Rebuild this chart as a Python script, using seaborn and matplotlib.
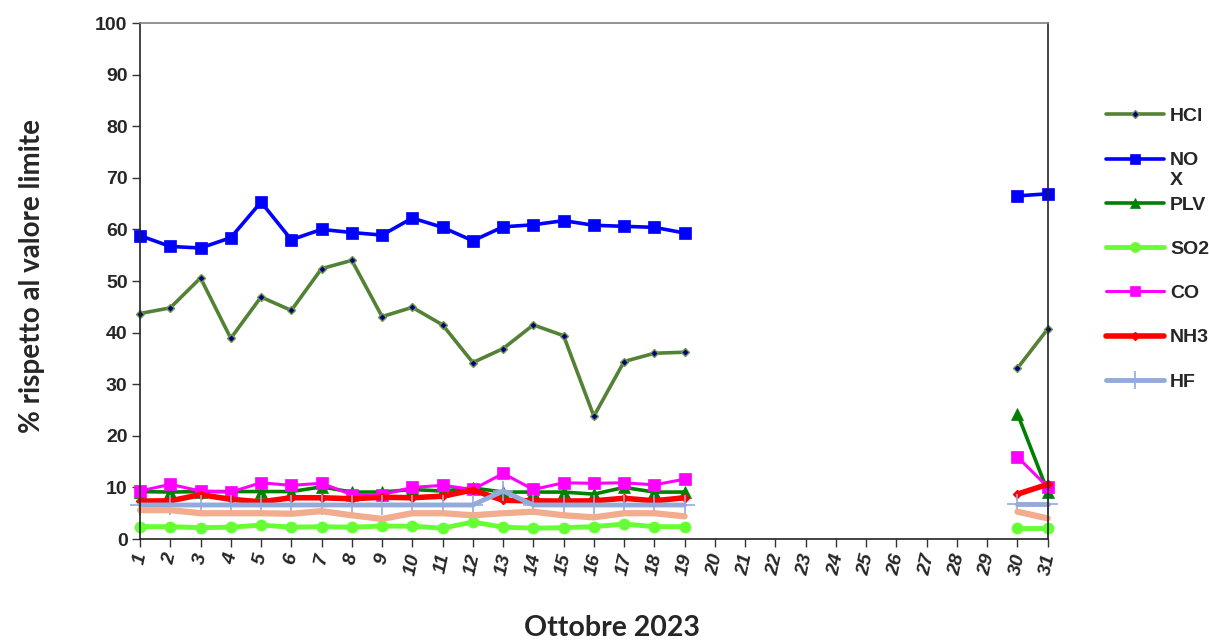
import numpy as np
import pandas as pd
import matplotlib
matplotlib.use("Agg")
import matplotlib.pyplot as plt
from matplotlib.lines import Line2D
import seaborn as sns

# days with data: 1-19 and 30-31 (20-29 empty)
days_a = list(range(1, 20))
days_b = [30, 31]

hcl = [43.7, 44.8, 50.6, 38.9, 46.9, 44.3, 52.4, 54.0, 43.1, 44.9, 41.5, 34.2, 36.9, 41.5, 39.4, 23.8, 34.4, 36.0, 36.2,
       33.1, 40.7]
nox = [58.8, 56.7, 56.4, 58.4, 65.3, 58.0, 60.0, 59.4, 58.9, 62.2, 60.4, 57.8, 60.5, 60.9, 61.7, 60.8, 60.6, 60.4, 59.3,
       66.5, 66.9]
plv = [9.2, 9.1, 9.2, 9.2, 9.2, 9.2, 10.1, 9.1, 9.1, 9.6, 9.3, 9.9, 9.1, 9.1, 9.1, 8.7, 10.0, 9.1, 9.1,
       24.3, 9.2]
so2 = [2.4, 2.4, 2.2, 2.3, 2.7, 2.3, 2.4, 2.3, 2.5, 2.5, 2.1, 3.3, 2.3, 2.1, 2.2, 2.4, 2.9, 2.4, 2.4,
       2.2, 2.2]
co = [9.3, 10.6, 9.3, 9.1, 10.9, 10.4, 10.8, 8.6, 8.6, 10.0, 10.4, 9.6, 12.7, 9.6, 10.9, 10.8, 10.9, 10.5, 11.6,
      15.9, 10.1]
nh3 = [7.35, 7.4, 8.6, 7.7, 7.2, 8.0, 8.0, 7.8, 8.1, 8.0, 8.3, 9.5, 7.5, 7.4, 7.35, 7.4, 7.9, 7.4, 8.0,
       8.7, 10.6]
hf = [6.6, 6.6, 6.6, 6.6, 6.6, 6.6, 6.6, 6.6, 6.6, 6.6, 6.6, 6.6, 9.3, 6.6, 6.6, 6.6, 6.6, 6.6, 6.6,
      6.7, 6.7]
other = [5.6, 5.6, 5.0, 5.0, 5.0, 4.9, 5.4, 4.6, 3.9, 5.0, 5.0, 4.6, 5.0, 5.3, 4.6, 4.2, 5.0, 5.0, 4.4,
         5.3, 4.0]

series = {"HCl": hcl, "NOX": nox, "PLV": plv, "SO2": so2, "CO": co, "NH3": nh3, "HF": hf, "altro": other}

styles = {
    "HCl": dict(color="#548235", lw=2.6, marker="D", ms=4.5, mfc="#000080", mec="#6E9A4A", mew=1.0),
    "NOX": dict(color="#0000FF", lw=2.6, marker="s", ms=8.5, mfc="#0000FF", mec="#0000FF", mew=0.5),
    "PLV": dict(color="#008000", lw=2.6, marker="^", ms=8, mfc="#008000", mec="#008000", mew=0.5),
    "SO2": dict(color="#66FF33", lw=3.5, marker="o", ms=8, mfc="#66FF33", mec="#66FF33", mew=0.5),
    "CO": dict(color="#FF00FF", lw=2.2, marker="s", ms=8.5, mfc="#FF00FF", mec="#FF00FF", mew=0.5),
    "NH3": dict(color="#FF0000", lw=4.0, marker="D", ms=4.5, mfc="#FF0000", mec="#FF0000", mew=1.0),
    "HF": dict(color="#94AADB", lw=3.5, marker="+", ms=14, mfc="#94AADB", mec="#94AADB", mew=1.2),
    "altro": dict(color="#F2AC8E", lw=4.5, marker=None, ms=0, mfc="none", mec="none", mew=0),
}

rows = []
for name, vals in series.items():
    for i, d in enumerate(days_a + days_b):
        rows.append({"series": name, "day": d, "value": vals[i], "segment": 0 if d < 20 else 1})
df = pd.DataFrame(rows)

sns.set_style("ticks")
fig = plt.figure(figsize=(12.09, 6.43), dpi=100)
ax = fig.add_axes([0.1158, 0.1617, 0.7508, 0.8025])

for name in series:
    st = styles[name]
    sub = df[df["series"] == name]
    sns.lineplot(data=sub, x="day", y="value", units="segment", estimator=None, ax=ax,
                 color=st["color"], linewidth=st["lw"], marker=st["marker"], markersize=st["ms"],
                 markerfacecolor=st["mfc"], markeredgecolor=st["mec"], markeredgewidth=st["mew"],
                 clip_on=False, legend=False)

ax.set_xlim(1, 31)
ax.set_ylim(0, 100)
ax.set_xticks(range(1, 32))
ax.set_yticks(range(0, 101, 10))
ax.set_xticklabels([str(d) for d in range(1, 32)], rotation=78, fontsize=14,
                   fontweight="bold", fontstyle="italic", family="Liberation Sans")
ax.set_yticklabels([str(v) for v in range(0, 101, 10)], fontsize=14, fontweight="bold",
                   family="Liberation Sans")
ax.tick_params(axis="both", direction="out", length=6, width=1, color="#333333", pad=3)

for side in ["left", "bottom", "right"]:
    ax.spines[side].set_color("#222222")
    ax.spines[side].set_linewidth(1.2)
ax.spines["top"].set_color("#808080")
ax.spines["top"].set_linewidth(1.2)

ax.set_xlabel("")
ax.set_ylabel("")
fig.text(0.0265, 0.571, "% rispetto al valore limite", rotation=90, ha="center", va="center",
         fontsize=20, fontweight="bold", family="Lato")
fig.text(0.5066, 0.023, "Ottobre 2023", ha="center", va="center",
         fontsize=20.5, fontweight="bold", family="Lato")

handles = []
labels = []
for name in ["HCl", "NOX", "PLV", "SO2", "CO", "NH3", "HF"]:
    st = styles[name]
    handles.append(Line2D([], [], color=st["color"], lw=st["lw"], marker=st["marker"],
                          markersize=st["ms"] * 0.9, markerfacecolor=st["mfc"],
                          markeredgecolor=st["mec"], markeredgewidth=st["mew"]))
    # the NOX label wraps in the original: "NO" on the row, "X" spills below
    labels.append("NO" if name == "NOX" else name)
leg = ax.legend(handles, labels, loc="upper left", bbox_to_anchor=(1.045, 0.87), frameon=False,
                handlelength=3.0, handletextpad=0.3, labelspacing=1.37,
                prop={"family": "Liberation Sans", "weight": "bold", "size": 14})

fig.canvas.draw()
no_txt = leg.get_texts()[1]
bb = no_txt.get_window_extent().transformed(fig.transFigure.inverted())
fig.text(bb.x0, bb.y0 - 0.004, "X", ha="left", va="top",
         family="Liberation Sans", fontweight="bold", fontsize=14)

fig.savefig("out.png", dpi=100)
